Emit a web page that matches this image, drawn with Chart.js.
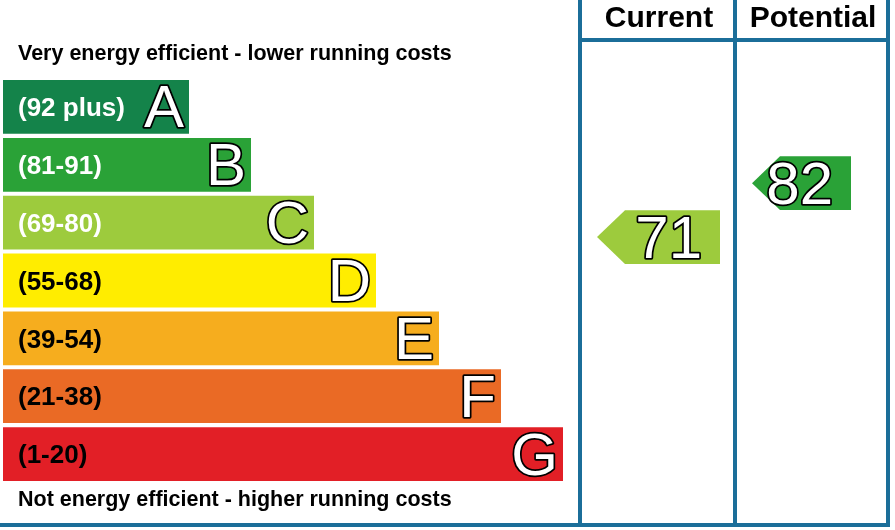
<!DOCTYPE html>
<html>
<head>
<meta charset="utf-8">
<script src="https://cdn.jsdelivr.net/npm/chart.js@4"></script>
<style>
  html, body { margin: 0; padding: 0; background: #fff; }
  #wrap { width: 895px; height: 530px; }
</style>
</head>
<body>
<div id="wrap"><canvas id="epc"></canvas></div>
<script>
// bands, top to bottom
var bandLetters = ["A", "B", "C", "D", "E", "F", "G"];
var bandRanges = ["(92 plus)", "(81-91)", "(69-80)", "(55-68)", "(39-54)", "(21-38)", "(1-20)"];
var bandMins = [92, 81, 69, 55, 39, 21, 1];
var bandMaxs = [100, 91, 80, 68, 54, 38, 20];
var bandLengths = [186, 248, 311, 373, 436, 498, 560];
var bandColors = ["#14834a", "#2aa237", "#9dcb3d", "#ffed00", "#f6ad1e", "#ea6a25", "#e21f26"];
var currentRating = 71;
var potentialRating = 82;

var lineBlue = "#1b6e99";

function bandOf(score) {
    for (var i = 0; i < bandMins.length; i++) {
        if (score >= bandMins[i]) return i;
    }
    return bandMins.length - 1;
}

function outlinedText(ctx, txt, x, y, size) {
    ctx.font = size + "px Arial, 'Liberation Sans', sans-serif";
    ctx.lineJoin = "round";
    ctx.lineWidth = 3.5;
    ctx.strokeStyle = "#000";
    ctx.strokeText(txt, x, y);
    ctx.fillStyle = "#fff";
    ctx.fillText(txt, x, y);
}

var epcPlugin = {
    id: "epcOverlay",
    afterDatasetsDraw: function (chart) {
        var ctx = chart.ctx;
        var ys = chart.scales.y;
        var meta = chart.getDatasetMeta(0);
        ctx.save();

        // band labels
        ctx.textBaseline = "middle";
        meta.data.forEach(function (bar, i) {
            ctx.textAlign = "left";
            ctx.fillStyle = i < 3 ? "#fff" : "#000";
            ctx.font = "bold 26px Arial, 'Liberation Sans', sans-serif";
            ctx.fillText(bandRanges[i], 18, bar.y + 2);
            ctx.textAlign = "right";
            outlinedText(ctx, bandLetters[i], bar.x - 5, bar.y + 4, 60);
        });

        // top / bottom captions
        ctx.textAlign = "left";
        ctx.fillStyle = "#000";
        ctx.font = "bold 21.5px Arial, 'Liberation Sans', sans-serif";
        ctx.fillText("Very energy efficient - lower running costs", 18, 54);
        ctx.fillText("Not energy efficient - higher running costs", 18, 500);

        // column frame
        ctx.strokeStyle = lineBlue;
        ctx.lineWidth = 4;
        ctx.beginPath();
        [580, 735, 888].forEach(function (x) { ctx.moveTo(x, 0); ctx.lineTo(x, 527); });
        ctx.moveTo(580, 40); ctx.lineTo(890, 40);
        ctx.moveTo(0, 525); ctx.lineTo(890, 525);
        ctx.stroke();

        ctx.textAlign = "center";
        ctx.fillStyle = "#000";
        ctx.font = "bold 30px Arial, 'Liberation Sans', sans-serif";
        ctx.fillText("Current", 659, 19);
        ctx.fillText("Potential", 813, 19);

        // rating arrows, placed by score within its band
        function arrow(score, left, right) {
            var b = bandOf(score);
            var bar = meta.data[b];
            var h = bar.height;
            var pos = b - 0.5 + (bandMaxs[b] - score) / (bandMaxs[b] - bandMins[b] + 1);
            var cy = ys.getPixelForValue(pos);
            var top = cy - h / 2;
            ctx.fillStyle = bandColors[b];
            ctx.beginPath();
            ctx.moveTo(left, cy);
            ctx.lineTo(left + 28, top);
            ctx.lineTo(right, top);
            ctx.lineTo(right, top + h);
            ctx.lineTo(left + 28, top + h);
            ctx.closePath();
            ctx.fill();
            ctx.textAlign = "right";
            outlinedText(ctx, String(score), right - 18, cy + 4, 60);
        }
        arrow(currentRating, 597, 720);
        arrow(potentialRating, 752, 851);

        ctx.restore();
    }
};

new Chart(document.getElementById("epc"), {
    type: "bar",
    data: {
        labels: bandLetters,
        datasets: [{
            data: bandLengths.map(function (len) { return [3, 3 + len]; }),
            backgroundColor: bandColors,
            borderWidth: 0,
            categoryPercentage: 0.93,
            barPercentage: 1
        }]
    },
    options: {
        indexAxis: "y",
        responsive: true,
        maintainAspectRatio: false,
        animation: false,
        layout: { padding: { top: 78, bottom: 47, left: 0, right: 0 } },
        scales: {
            x: { display: false, min: 0, max: 895 },
            y: { display: false }
        },
        plugins: { legend: { display: false }, tooltip: { enabled: false } }
    },
    plugins: [epcPlugin]
});
</script>
</body>
</html>
